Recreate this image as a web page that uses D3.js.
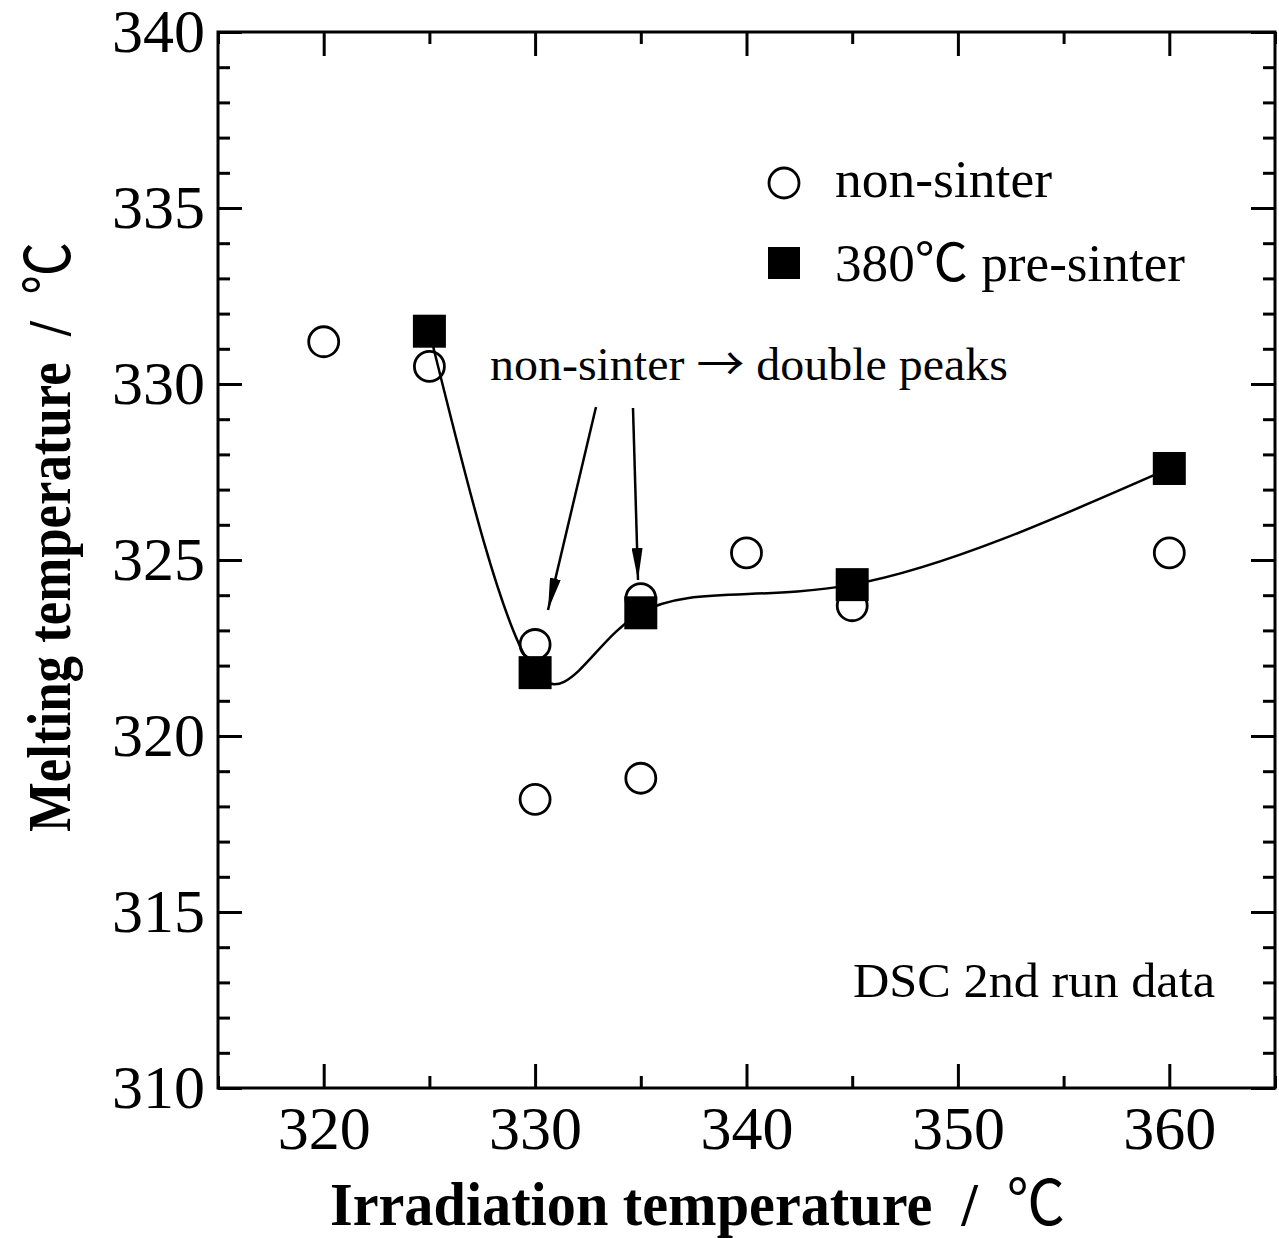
<!DOCTYPE html>
<html>
<head>
<meta charset="utf-8">
<script src="https://cdn.jsdelivr.net/npm/d3@7"></script>
<style>
  body { margin: 0; background: #fff; }
  text { font-family: "Liberation Serif", "Times New Roman", serif; fill: #000; white-space: pre; }
  .sym { font-family: "Noto Sans CJK JP", sans-serif; font-weight: normal; }
</style>
</head>
<body>
<div id="chart"></div>
<script>
// data
var nonSinterX = [320, 325, 330, 330, 335, 335, 340, 345, 360];
var nonSinterY = [331.2, 330.5, 322.6, 318.2, 323.9, 318.8, 325.2, 323.7, 325.2];
var preSinterX = [325, 330, 335, 345, 360];
var preSinterY = [331.5, 321.8, 323.5, 324.3, 327.6];
var xTicks = [320, 330, 340, 350, 360];
var yTicks = [310, 315, 320, 325, 330, 335, 340];

var svgWidth = 1279;
var svgHeight = 1238;
var margin = { top: 32, right: 4, bottom: 150, left: 218 };
var width = svgWidth - margin.left - margin.right;
var height = svgHeight - margin.top - margin.bottom;

var svg = d3.select("#chart")
  .append("svg")
  .attr("width", svgWidth)
  .attr("height", svgHeight);

var chartGroup = svg.append("g")
  .attr("transform", `translate(${margin.left}, ${margin.top})`);

var xScale = d3.scaleLinear().domain([315, 365]).range([0, width]);
var yScale = d3.scaleLinear().domain([310, 340]).range([height, 0]);

// inward ticks on all four sides
var xMinor = d3.range(315, 366, 5).filter(d => xTicks.indexOf(d) < 0);
var yMinor = d3.range(310, 341, 1).filter(d => yTicks.indexOf(d) < 0);

function tickAxis(axisFn, scale, major, minor, transform, pad) {
  var g = chartGroup.append("g").attr("transform", transform);
  g.call(axisFn(scale).tickValues(minor).tickSize(-12).tickFormat(""));
  var gm = chartGroup.append("g").attr("transform", transform);
  gm.call(axisFn(scale).tickValues(major).tickSize(-24).tickPadding(pad || 0)
    .tickFormat(pad ? d3.format("d") : ""));
  [g, gm].forEach(function(s) {
    s.select(".domain").remove();
    s.selectAll("line").attr("stroke", "#000").attr("stroke-width", 3);
    s.selectAll("text").attr("font-size", 62).attr("font-family", "Liberation Serif");
  });
  return gm;
}

tickAxis(d3.axisBottom, xScale, xTicks, xMinor, `translate(0, ${height})`, 17);
tickAxis(d3.axisTop, xScale, xTicks, xMinor, "translate(0, 0)", 0);
tickAxis(d3.axisLeft, yScale, yTicks, yMinor, "translate(0, 0)", 13);
tickAxis(d3.axisRight, yScale, yTicks, yMinor, `translate(${width}, 0)`, 0);

chartGroup.append("rect")
  .attr("width", width)
  .attr("height", height)
  .attr("fill", "none")
  .attr("stroke", "#000")
  .attr("stroke-width", 3);

// fitted curve through pre-sinter points
var preData = preSinterX.map((x, i) => ({ x: x, y: preSinterY[i] }));
var line = d3.line()
  .x(d => xScale(d.x))
  .y(d => yScale(d.y))
  .curve(d3.curveNatural);

chartGroup.append("path")
  .datum(preData)
  .attr("d", line)
  .attr("fill", "none")
  .attr("stroke", "#000")
  .attr("stroke-width", 2.5);

// open circles
chartGroup.selectAll(".ns")
  .data(nonSinterX.map((x, i) => ({ x: x, y: nonSinterY[i] })))
  .enter()
  .append("circle")
  .attr("cx", d => xScale(d.x))
  .attr("cy", d => yScale(d.y))
  .attr("r", 15)
  .attr("fill", "none")
  .attr("stroke", "#000")
  .attr("stroke-width", 2.8);

// filled squares
var sq = 33;
chartGroup.selectAll(".ps")
  .data(preData)
  .enter()
  .append("rect")
  .attr("x", d => xScale(d.x) - sq / 2)
  .attr("y", d => yScale(d.y) - sq / 2)
  .attr("width", sq)
  .attr("height", sq)
  .attr("fill", "#000");

// legend
var legend = svg.append("g");
legend.append("circle")
  .attr("cx", 784).attr("cy", 183).attr("r", 15)
  .attr("fill", "none").attr("stroke", "#000").attr("stroke-width", 2.8);
legend.append("text")
  .attr("x", 835).attr("y", 197)
  .attr("font-size", 52)
  .attr("textLength", 217).attr("lengthAdjust", "spacingAndGlyphs")
  .text("non-sinter");
legend.append("rect")
  .attr("x", 768).attr("y", 247).attr("width", 32).attr("height", 32)
  .attr("fill", "#000");
var lt = legend.append("text")
  .attr("x", 835).attr("y", 281)
  .attr("font-size", 52)
  .attr("textLength", 350).attr("lengthAdjust", "spacingAndGlyphs");
lt.append("tspan").text("380");
lt.append("tspan").attr("class", "sym").text("℃");
lt.append("tspan").text(" pre-sinter");

// annotation
var an = svg.append("text")
  .attr("x", 490).attr("y", 380)
  .attr("font-size", 46)
  .attr("textLength", 518).attr("lengthAdjust", "spacingAndGlyphs");
an.append("tspan").text("non-sinter ");
an.append("tspan").attr("class", "sym").text("→");
an.append("tspan").text(" double peaks");

svg.append("defs").append("marker")
  .attr("id", "head")
  .attr("viewBox", "0 0 10 10")
  .attr("preserveAspectRatio", "none")
  .attr("refX", 10).attr("refY", 5)
  .attr("markerWidth", 32).attr("markerHeight", 11)
  .attr("markerUnits", "userSpaceOnUse")
  .attr("orient", "auto")
  .append("path")
  .attr("d", "M0,0 L10,5 L0,10 Z")
  .attr("fill", "#000");

var arrows = [[596, 407, 548, 610], [633, 408, 638, 580]];
svg.selectAll(".arrow")
  .data(arrows)
  .enter()
  .append("line")
  .attr("x1", d => d[0]).attr("y1", d => d[1])
  .attr("x2", d => d[2]).attr("y2", d => d[3])
  .attr("stroke", "#000")
  .attr("stroke-width", 2.5)
  .attr("marker-end", "url(#head)");

svg.append("text")
  .attr("x", 853).attr("y", 997)
  .attr("font-size", 48)
  .attr("textLength", 362).attr("lengthAdjust", "spacingAndGlyphs")
  .text("DSC 2nd run data");

// axis titles
var xt = svg.append("text")
  .attr("x", 330).attr("y", 1225)
  .attr("font-size", 62)
  .attr("font-weight", "bold")
  .attr("textLength", 735).attr("lengthAdjust", "spacingAndGlyphs");
xt.append("tspan").text("Irradiation temperature\u00a0\u00a0/\u00a0\u00a0");
xt.append("tspan").attr("class", "sym").text("℃");

var yt = svg.append("text")
  .attr("transform", "translate(70, 832) rotate(-90)")
  .attr("font-size", 62)
  .attr("font-weight", "bold")
  .attr("textLength", 590).attr("lengthAdjust", "spacingAndGlyphs");
yt.append("tspan").text("Melting temperature\u00a0\u00a0/\u00a0\u00a0");
yt.append("tspan").attr("class", "sym").text("℃");
</script>
</body>
</html>
